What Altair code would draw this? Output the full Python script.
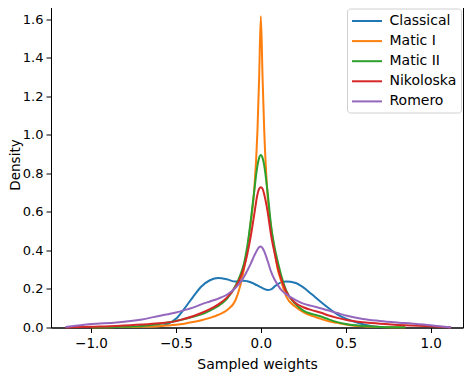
import altair as alt
import pandas as pd

# x grid (Sampled weights)
xs = [-1.15, -1.0, -0.85, -0.7, -0.6, -0.5, -0.45, -0.4, -0.35, -0.3, -0.25, -0.2,
      -0.15, -0.12, -0.1, -0.08, -0.06, -0.04, -0.02, -0.01, 0.0, 0.01, 0.02, 0.04,
      0.06, 0.08, 0.1, 0.12, 0.15, 0.2, 0.25, 0.3, 0.35, 0.4, 0.45, 0.5, 0.6, 0.7,
      0.85, 1.0, 1.12]

classical = [None, None, None, 0.001, 0.006, 0.045, 0.098, 0.158, 0.213, 0.245, 0.257, 0.25,
             0.238, 0.242, 0.243, 0.24, 0.235, 0.227, 0.218, 0.213, 0.209, 0.204, 0.2, 0.195,
             0.198, 0.212, 0.225, 0.234, 0.238, 0.232, 0.208, 0.172, 0.135, 0.1, 0.068, 0.046, 0.017, 0.002,
             None, None, None]
matic1 = [None, 0.001, 0.002, 0.004, 0.007, 0.014, 0.02, 0.028, 0.038, 0.05, 0.066, 0.09,
          0.14, 0.22, 0.30, 0.40, 0.54, 0.70, 1.02, 1.30, 1.615, 1.30, 1.02, 0.68,
          0.52, 0.40, 0.30, 0.24, 0.16, 0.11, 0.08, 0.06, 0.046, 0.032, 0.024, 0.016, 0.006, 0.003,
          0.001, None, None]
matic2 = [None, 0.001, 0.003, 0.008, 0.018, 0.034, 0.044, 0.056, 0.068, 0.088, 0.112, 0.148,
          0.215, 0.275, 0.33, 0.42, 0.55, 0.70, 0.84, 0.88, 0.895, 0.88, 0.84, 0.70,
          0.53, 0.42, 0.34, 0.27, 0.19, 0.125, 0.088, 0.07, 0.058, 0.042, 0.028, 0.018, 0.008, 0.003,
          0.001, None, None]
nikoloska = [0.0, 0.004, 0.008, 0.015, 0.022, 0.033, 0.045, 0.058, 0.075, 0.095, 0.12, 0.155,
             0.21, 0.26, 0.31, 0.38, 0.47, 0.58, 0.69, 0.72, 0.727, 0.72, 0.69, 0.60,
             0.48, 0.39, 0.31, 0.25, 0.185, 0.13, 0.105, 0.09, 0.078, 0.062, 0.05, 0.04, 0.027, 0.02,
             0.012, 0.006, 0.0]
romero = [0.002, 0.018, 0.026, 0.042, 0.06, 0.078, 0.09, 0.103, 0.12, 0.135, 0.15, 0.17,
          0.205, 0.235, 0.262, 0.295, 0.33, 0.37, 0.405, 0.417, 0.42, 0.412, 0.395, 0.345,
          0.29, 0.25, 0.22, 0.195, 0.172, 0.145, 0.124, 0.112, 0.1, 0.088, 0.075, 0.062, 0.044, 0.034,
          0.023, 0.012, 0.0]

names = ["Classical", "Matic I", "Matic II", "Nikoloska", "Romero"]
series = [classical, matic1, matic2, nikoloska, romero]
colors = ["#1f77b4", "#ff7f0e", "#2ca02c", "#d62728", "#9467bd"]

rows = []
for name, ys in zip(names, series):
    for x, y in zip(xs, ys):
        if y is not None:
            rows.append({"x": x, "y": y, "series": name})
df = pd.DataFrame(rows)

chart = alt.Chart(df).mark_line(strokeWidth=2, interpolate="monotone").encode(
    x=alt.X("x:Q", title="Sampled weights",
            scale=alt.Scale(domain=[-1.2355, 1.1902], nice=False, zero=False),
            axis=alt.Axis(values=[-1.0, -0.5, 0.0, 0.5, 1.0], format=".1f", titlePadding=7)),
    y=alt.Y("y:Q", title="Density",
            scale=alt.Scale(domain=[0, 1.691], nice=False),
            axis=alt.Axis(values=[0, 0.2, 0.4, 0.6, 0.8, 1.0, 1.2, 1.4, 1.6], format=".1f",
                          titlePadding=0, labelPadding=3, labelFontSize=13, titleFontSize=13.5)),
    color=alt.Color("series:N", scale=alt.Scale(domain=names, range=colors),
                    legend=alt.Legend(title=None, orient="none", legendX=296, legendY=7,
                                      symbolType="M-1,0H3", symbolSize=225, symbolStrokeWidth=2,
                                      symbolFillColor="transparent",
                                      labelFontSize=14, labelColor="black", labelOffset=21.5,
                                      fillColor="white", strokeColor="#d0d0d0", cornerRadius=3,
                                      padding=4, rowPadding=4.1)),
).properties(
    width=412, height=326,
    autosize=alt.AutoSizeParams(type="none"),
    padding={"left": 43, "top": -6.5, "right": 1, "bottom": 50},
).configure(
    font="DejaVu Sans",
).configure_view(
    stroke="black", strokeWidth=1,
).configure_axis(
    grid=False, domainColor="black", domainWidth=1, tickColor="black", tickSize=5,
    tickWidth=1, labelFontSize=13.5, labelColor="black", titleFontSize=14,
    titleFontWeight="normal", titleColor="black", labelPadding=4,
)

chart.save("out.html", embed_options={"renderer": "svg", "actions": False})
